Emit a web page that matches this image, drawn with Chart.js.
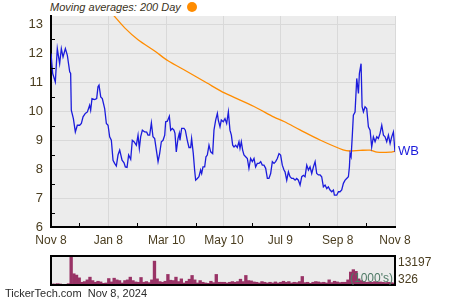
<!DOCTYPE html>
<html>
<head>
<meta charset="utf-8">
<script src="https://cdn.jsdelivr.net/npm/chart.js@4.4.0/dist/chart.umd.min.js"></script>
<style>
    body { margin: 0; width: 450px; height: 300px; background: #fff; position: relative; overflow: hidden; font-family: "Liberation Sans", Arial, sans-serif; }
    canvas { position: absolute; left: 0; }
    #mainChart { top: 0; }
    #volChart { top: 250px; }
    .legend { position: absolute; left: 50px; top: 1px; font-size: 11px; font-style: italic; color: #3a3222; line-height: 13px; }
    .dot { position: absolute; left: 187px; top: 2px; width: 10px; height: 10px; border-radius: 50%; background: #ff8c00; }
    .footer { position: absolute; left: 5px; top: 287px; font-size: 11px; color: #2b2b2b; line-height: 13px; white-space: pre; }
</style>
</head>
<body>
<div class="legend">Moving averages: 200 Day</div>
<div class="dot"></div>
<canvas id="mainChart" width="450" height="250"></canvas>
<canvas id="volChart" width="450" height="50"></canvas>
<div class="footer">TickerTech.com  Nov 8, 2024</div>
<script>
// Axis ticks (days since Nov 8, 2023)
const xTickDays = [0, 61, 123, 184, 244, 305, 366];
const xTickLabels = ['Nov 8', 'Jan 8', 'Mar 10', 'May 10', 'Jul 9', 'Sep 8', 'Nov 8'];
const xMinorDays = [30, 92, 154, 214, 274, 335];
const yTicks = [6, 7, 8, 9, 10, 11, 12, 13];
const yMinorTicks = [6.5, 7.5, 8.5, 9.5, 10.5, 11.5, 12.5];
const tickerLabel = 'WB';

// Closing price
const priceDays = [
    0, 1.8, 4.6, 6.7, 9.2, 11.0, 12.8, 15.3, 17.4, 19.9, 20.9, 21.6, 23.8, 25.9, 28.0, 30.5, 32.3, 34.1, 36.5, 38.7,
    41.1, 42.2, 43.6, 46.5, 48.6, 50.0, 51.1, 52.9, 54.6, 57.1, 58.9, 60.7, 62.4, 64.2, 66.0, 67.7, 69.5, 71.3, 73.1, 75.6,
    77.7, 79.1, 80.9, 82.6, 84.8, 86.5, 88.3, 90.8, 92.6, 94.0, 95.4, 97.2, 99.7, 101.8, 103.2, 105.0, 106.8, 108.5, 110.3, 112.1,
    113.9, 115.6, 117.4, 119.2, 121.0, 122.0, 123.8, 125.9, 127.3, 129.1, 130.8, 131.9, 133.3, 135.1, 136.5, 137.2, 139.0, 141.5, 142.9, 145.0,
    146.8, 148.6, 149.6, 151.4, 152.8, 153.9, 155.7, 157.4, 159.2, 160.3, 161.7, 163.5, 164.9, 166.3, 168.1, 169.9, 172.0, 173.4, 175.2, 177.0,
    178.0, 179.8, 181.2, 183.3, 185.1, 186.9, 188.7, 190.4, 191.9, 193.3, 194.7, 196.5, 198.2, 200.0, 201.1, 202.5, 203.9, 205.3, 207.1, 208.9,
    210.6, 212.4, 214.2, 216.0, 217.7, 219.5, 221.3, 223.1, 224.8, 226.6, 228.4, 230.2, 231.9, 233.7, 235.5, 237.3, 239.0, 240.8, 242.6, 244.3,
    246.1, 247.9, 249.0, 250.8, 252.6, 254.3, 256.1, 257.9, 259.7, 261.4, 263.2, 265.0, 266.8, 268.5, 270.3, 272.1, 273.9, 275.6, 277.4, 279.2,
    281.0, 282.7, 284.5, 286.3, 288.0, 289.8, 291.6, 293.4, 295.1, 296.9, 298.7, 300.5, 301.5, 304.0, 305.8, 307.5, 309.3, 311.1, 312.9, 314.6,
    316.4, 317.5, 318.2, 319.3, 320.7, 321.7, 323.5, 325.3, 327.1, 328.1, 329.9, 331.0, 332.4, 334.1, 335.9, 337.7, 339.5, 341.2, 343.0, 344.8,
    346.6, 348.3, 350.1, 351.9, 353.7, 355.4, 357.2, 359.0, 360.8, 362.5, 364.3, 366.0
];
const priceVals = [
    12.00, 11.31, 11.02, 12.17, 11.65, 12.17, 11.88, 12.17, 11.94, 11.37, 11.31, 10.04, 9.75, 9.29, 9.52, 9.52, 9.58, 9.81, 9.93, 9.98,
    10.21, 10.04, 10.44, 10.41, 10.44, 10.85, 10.91, 10.50, 10.44, 10.10, 9.58, 9.52, 9.12, 9.00, 8.31, 8.20, 8.11, 8.49, 8.66, 8.31,
    8.22, 8.08, 8.06, 8.49, 8.34, 9.00, 8.95, 8.83, 9.18, 8.72, 9.12, 9.35, 9.29, 9.28, 9.18, 9.18, 9.60, 9.12, 9.06, 8.66,
    8.26, 8.54, 8.95, 9.00, 9.18, 9.64, 9.66, 9.83, 9.35, 9.41, 9.35, 9.24, 8.60, 9.06, 9.24, 9.00, 9.41, 9.41, 9.35, 9.00,
    8.75, 8.75, 9.06, 8.54, 7.97, 7.62, 7.68, 7.74, 7.97, 7.85, 8.08, 8.08, 8.43, 8.49, 8.83, 8.60, 8.54, 9.35, 9.70, 9.93,
    9.70, 9.47, 9.70, 9.64, 9.75, 9.58, 9.98, 9.35, 9.18, 8.83, 8.77, 8.83, 8.75, 8.95, 8.72, 8.95, 8.66, 8.49, 8.43, 8.37,
    8.03, 8.37, 8.26, 8.37, 8.08, 8.20, 8.20, 8.26, 8.14, 8.14, 8.03, 7.68, 7.68, 7.85, 8.26, 8.20, 8.26, 8.37, 8.54, 8.49,
    8.14, 7.97, 7.91, 7.62, 7.91, 7.74, 7.68, 7.68, 7.62, 7.68, 7.62, 7.45, 7.74, 7.79, 7.74, 8.14, 7.97, 8.08, 7.85, 8.08,
    8.26, 7.85, 7.80, 7.80, 7.74, 7.39, 7.45, 7.33, 7.39, 7.28, 7.22, 7.28, 7.10, 7.10, 7.22, 7.22, 7.28, 7.51, 7.62, 7.68,
    7.74, 8.08, 8.54, 8.43, 9.24, 9.87, 9.98, 11.14, 10.62, 11.31, 11.65, 10.16, 9.98, 10.16, 10.10, 9.47, 9.35, 8.77, 9.12, 8.95,
    9.12, 9.06, 9.24, 9.52, 9.18, 9.12, 8.95, 9.18, 8.89, 9.12, 9.29, 8.60
];

// 200 day moving average
const maDays = [67.0, 78.7, 92.6, 110.7, 124.5, 144.7, 166.0, 185.1, 216.0, 237.3, 247.9, 264.9, 286.2, 310.7, 318.1, 328.8, 339.4, 346.9, 360.7, 366.0];
const maVals = [13.31, 12.88, 12.48, 12.08, 11.75, 11.38, 10.98, 10.63, 10.17, 9.80, 9.65, 9.36, 9.01, 8.67, 8.63, 8.65, 8.66, 8.59, 8.59, 8.62];

// Volume (thousands)
const volMin = 326;
const volMax = 13197;
const volVals = [
    780, 780, 930, 780, 480, 630, 930, 13197, 5320, 4720, 3500, 1540, 1840, 2600, 3810, 2290, 1540, 1990, 1690, 1080,
    1230, 3200, 1690, 3350, 2600, 2290, 1230, 2290, 2600, 3810, 2290, 1690, 1540, 3660, 1540, 1840, 1390, 2600, 10920, 3050,
    1840, 1540, 1990, 5020, 2450, 2290, 3810, 1840, 3050, 1230, 1990, 2900, 4560, 2600, 1230, 2290, 1540, 1230, 1080, 1990,
    1390, 5020, 1540, 1540,
    1540, 1230, 1540, 1840, 1540, 1840, 2900, 1840, 4560, 2290, 2140, 1690, 1540, 1230, 1840, 1540, 1230, 1540, 1230, 1690,
    1230, 1540, 1990, 1540, 1840, 1230, 1540, 1390, 1840, 4110, 1390, 1540, 1080, 1540, 1840, 1690, 1390, 1540, 1230, 2600,
    1390, 1990, 1690, 1390, 1540, 1540, 2600, 6080, 7140, 6380, 3050, 2290, 1840, 1540, 1690, 1540, 1840, 1540, 1690, 1540,
    1390, 1540, 1390, 1230
];

const FONT = '"Liberation Sans", Arial, sans-serif';
const LABEL_COLOR = '#4a3d1f';
const GRID_COLOR = '#d9d9d9';

const mainPlugin = {
    id: 'mainDecor',
    beforeDraw(chart) {
        const { ctx, chartArea: a } = chart;
        ctx.save();
        ctx.fillStyle = '#ececec';
        ctx.fillRect(a.left, a.top, a.right - a.left, a.bottom - a.top);
        ctx.restore();
    },
    afterDraw(chart) {
        const { ctx, chartArea: a, scales } = chart;
        ctx.save();
        ctx.strokeStyle = '#000';
        ctx.lineWidth = 1;
        ctx.beginPath();
        yMinorTicks.forEach(v => {
            const y = Math.round(scales.y.getPixelForValue(v)) + 0.5;
            ctx.moveTo(a.left, y);
            ctx.lineTo(a.left + 4, y);
        });
        xMinorDays.forEach(d => {
            const x = Math.round(scales.x.getPixelForValue(d)) + 0.5;
            ctx.moveTo(x, a.bottom);
            ctx.lineTo(x, a.bottom - 4);
        });
        ctx.stroke();

        // ticker label at the last price
        const meta = chart.getDatasetMeta(0);
        const last = meta.data[meta.data.length - 1];
        ctx.fillStyle = '#1c1cdc';
        ctx.font = '13px ' + FONT;
        ctx.textBaseline = 'middle';
        ctx.textAlign = 'left';
        ctx.fillText(tickerLabel, a.right + 3, last.y);
        ctx.restore();
    }
};

const mainCtx = document.getElementById('mainChart').getContext('2d');
new Chart(mainCtx, {
    type: 'line',
    data: {
        datasets: [{
            data: priceDays.map((d, i) => ({ x: d, y: priceVals[i] })),
            borderColor: '#1c1cdc',
            borderWidth: 1.3,
            pointRadius: 0,
            tension: 0
        }, {
            data: maDays.map((d, i) => ({ x: d, y: maVals[i] })),
            borderColor: '#ff8c00',
            borderWidth: 1.3,
            pointRadius: 0,
            tension: 0.3
        }]
    },
    options: {
        responsive: false,
        animation: false,
        layout: { padding: { top: 16, right: 55, left: 0, bottom: 0 } },
        plugins: { legend: { display: false }, tooltip: { enabled: false } },
        scales: {
            x: {
                type: 'linear',
                min: 0,
                max: 366,
                afterBuildTicks: s => { s.ticks = xTickDays.map(v => ({ value: v })); },
                afterFit: s => { s.height = 23; },
                ticks: {
                    autoSkip: false,
                    maxRotation: 0,
                    padding: 6,
                    color: LABEL_COLOR,
                    font: { family: FONT, size: 12 },
                    callback: (v, i) => xTickLabels[i]
                },
                grid: { color: GRID_COLOR, drawTicks: false },
                border: { color: '#000', width: 2 }
            },
            y: {
                min: 6,
                max: 13.3,
                afterBuildTicks: s => { s.ticks = yTicks.map(v => ({ value: v })); },
                afterFit: s => { s.width = 51; },
                ticks: {
                    padding: 8,
                    color: LABEL_COLOR,
                    font: { family: FONT, size: 13 }
                },
                grid: { color: GRID_COLOR, drawTicks: false },
                border: { color: '#000', width: 2 }
            }
        }
    },
    plugins: [mainPlugin]
});

const volPlugin = {
    id: 'volDecor',
    beforeDraw(chart) {
        const { ctx, chartArea: a } = chart;
        ctx.save();
        ctx.fillStyle = '#ececec';
        ctx.fillRect(a.left, a.top, a.right - a.left, a.bottom - a.top);
        ctx.restore();
    },
    afterDraw(chart) {
        const { ctx, chartArea: a } = chart;
        ctx.save();
        ctx.strokeStyle = '#000';
        ctx.lineWidth = 2;
        ctx.strokeRect(a.left, a.top, a.right - a.left, a.bottom - a.top);
        ctx.font = '12px ' + FONT;
        ctx.textBaseline = 'middle';
        ctx.fillStyle = '#4f7a66';
        ctx.textAlign = 'right';
        ctx.fillText("(1000's)", a.right - 2, a.bottom - 6);
        ctx.fillStyle = LABEL_COLOR;
        ctx.textAlign = 'left';
        ctx.fillText(String(volMax), a.right + 3, a.top + 7);
        ctx.fillText(String(volMin), a.right + 3, a.bottom - 5);
        ctx.restore();
    }
};

const volCtx = document.getElementById('volChart').getContext('2d');
new Chart(volCtx, {
    type: 'bar',
    data: {
        labels: volVals.map((_, i) => i),
        datasets: [{
            data: volVals,
            backgroundColor: '#993366',
            borderWidth: 0,
            barPercentage: 1,
            categoryPercentage: 1
        }]
    },
    options: {
        responsive: false,
        animation: false,
        layout: { padding: { top: 6, right: 55, left: 51, bottom: 15 } },
        plugins: { legend: { display: false }, tooltip: { enabled: false } },
        scales: {
            x: { display: false },
            y: { display: false, min: volMin, max: volMax }
        }
    },
    plugins: [volPlugin]
});
</script>
</body>
</html>
